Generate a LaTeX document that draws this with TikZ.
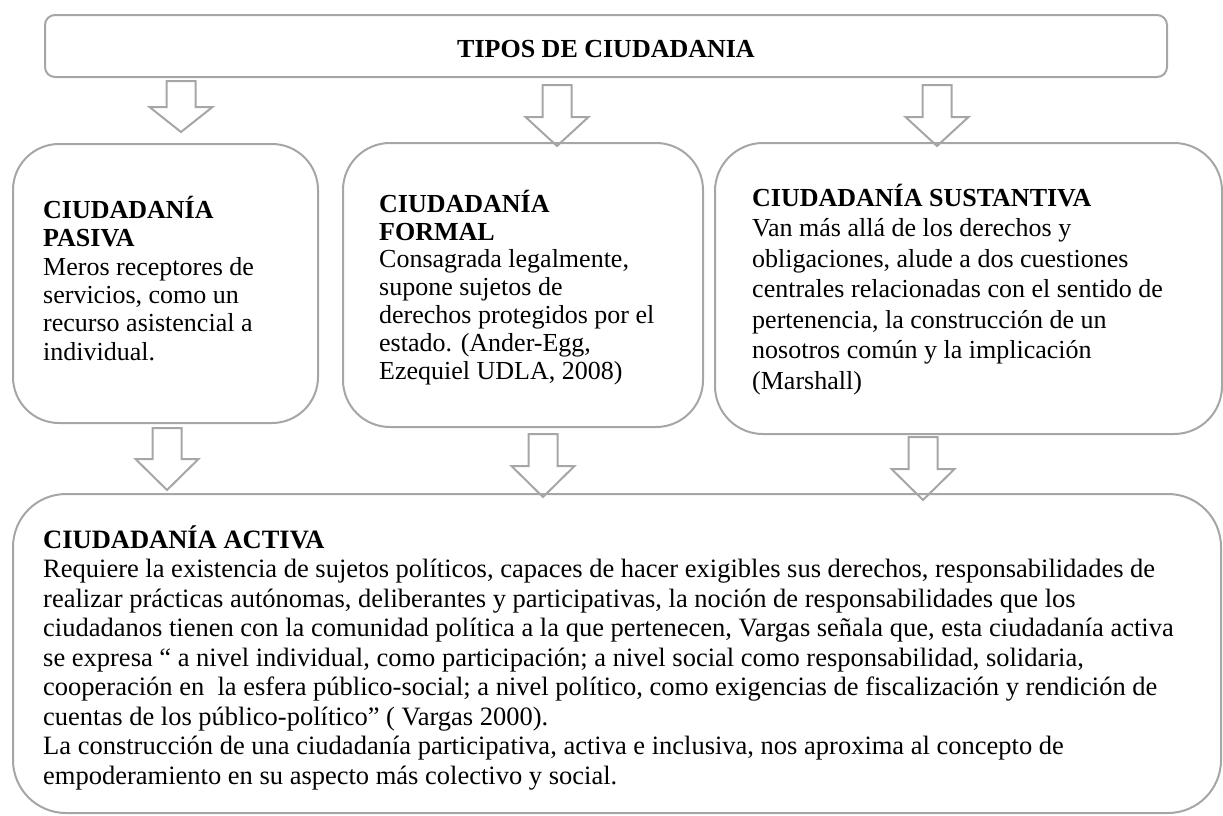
\documentclass[tikz,border=0pt]{standalone}
\usepackage{fontspec}
\setmainfont{Liberation Serif}
\definecolor{boxgray}{RGB}{166,166,166}
\tikzset{
  boxnode/.style={draw=boxgray, line width=2pt, inner sep=0pt, anchor=center},
  txt/.style={inner sep=0pt, anchor=north west, align=left, font=\fontsize{26pt}{28.4pt}\selectfont},
  txtf/.style={inner sep=0pt, anchor=north west, align=left, font=\fontsize{26pt}{27.8pt}\selectfont},
  txtb/.style={inner sep=0pt, anchor=north west, align=left, font=\fontsize{26pt}{30.5pt}\selectfont},
  txta/.style={inner sep=0pt, anchor=north west, align=left, font=\fontsize{26.5pt}{29.5pt}\selectfont},
  arrowshape/.style={draw=boxgray, line width=2pt, line join=miter}
}
\newcommand{\bkarrow}[4]{%
  \draw[arrowshape] (#1-14.5,#2) -- (#1+14.5,#2) -- (#1+14.5,#3) -- (#1+31.5,#3) -- (#1,#4) -- (#1-31.5,#3) -- (#1-14.5,#3) -- cycle;}
\begin{document}
\begin{tikzpicture}[x=1pt,y=-1pt]
\useasboundingbox (0,0) rectangle (1223,815);
% title
\node[boxnode, minimum width=1122pt, minimum height=62pt, rounded corners=10pt] (title) at (606,46) {};
\node[inner sep=0pt, anchor=base, font=\fontsize{26pt}{28.4pt}\selectfont\bfseries] (titleT) at (606,57) {TIPOS DE CIUDADANIA};
% row boxes
\node[boxnode, minimum width=305pt, minimum height=279pt, rounded corners=46pt] (pasiva) at (165.5,283.5) {};
\node[boxnode, minimum width=360pt, minimum height=284pt, rounded corners=47pt] (formal) at (523,285) {};
\node[boxnode, minimum width=507pt, minimum height=291pt, rounded corners=48pt] (sust) at (968.5,288.5) {};
\node[boxnode, minimum width=1208pt, minimum height=319pt, rounded corners=53pt] (activa) at (617,653.5) {};
% texts
\node[txt] (pasivaT) at (43,194) {\rule{0pt}{24pt}\textbf{CIUDADANÍA}\\\textbf{PASIVA}\\Meros receptores de\\servicios, como un\\recurso asistencial a\\individual.};
\node[txtf] (formalT) at (379,188) {\rule{0pt}{24pt}\textbf{CIUDADANÍA}\\\textbf{FORMAL}\\Consagrada legalmente,\\supone sujetos de\\derechos protegidos por el\\estado. (Ander-Egg,\\Ezequiel UDLA, 2008)};
\node[txtb] (sustT) at (752,182) {\rule{0pt}{24pt}\textbf{CIUDADANÍA SUSTANTIVA}\\Van más allá de los derechos y\\obligaciones, alude a dos cuestiones\\centrales relacionadas con el sentido de\\pertenencia, la construcción de un\\nosotros común y la implicación\\(Marshall)};
\node[txta] (activaT) at (43,524) {\rule{0pt}{24pt}\textbf{CIUDADANÍA ACTIVA}\\Requiere la existencia de sujetos políticos, capaces de hacer exigibles sus derechos, responsabilidades de\\realizar prácticas autónomas, deliberantes y participativas, la noción de responsabilidades que los\\ciudadanos tienen con la comunidad política a la que pertenecen, Vargas señala que, esta ciudadanía activa\\se expresa “ a nivel individual, como participación; a nivel social como responsabilidad, solidaria,\\cooperación en\ \ la esfera público-social; a nivel político, como exigencias de fiscalización y rendición de\\cuentas de los público-político” ( Vargas 2000).\\La construcción de una ciudadanía participativa, activa e inclusiva, nos aproxima al concepto de\\empoderamiento en su aspecto más colectivo y social.};
% arrows
\bkarrow{181}{81}{107}{132}
\bkarrow{557}{85}{117}{146}
\bkarrow{937}{85}{117}{146}
\bkarrow{167}{428}{459}{490}
\bkarrow{543}{434}{466}{497}
\bkarrow{923}{437}{469}{500}
\end{tikzpicture}
\end{document}
